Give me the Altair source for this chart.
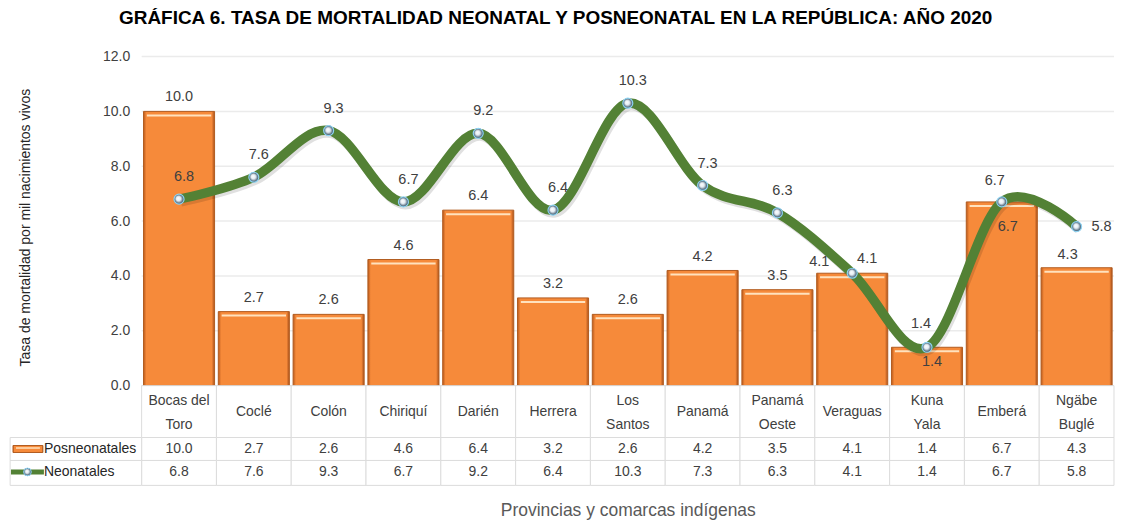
import altair as alt
import pandas as pd

# ---------------- data ----------------
categories = ["Bocas del Toro", "Coclé", "Colón", "Chiriquí", "Darién", "Herrera",
              "Los Santos", "Panamá", "Panamá Oeste", "Veraguas", "Kuna Yala",
              "Emberá", "Ngäbe Buglé"]
category_labels = ["Bocas del\nToro", "Coclé", "Colón", "Chiriquí", "Darién", "Herrera",
                   "Los\nSantos", "Panamá", "Panamá\nOeste", "Veraguas", "Kuna\nYala",
                   "Emberá", "Ngäbe\nBuglé"]
posneonatales = [10.0, 2.7, 2.6, 4.6, 6.4, 3.2, 2.6, 4.2, 3.5, 4.1, 1.4, 6.7, 4.3]
neonatales = [6.8, 7.6, 9.3, 6.7, 9.2, 6.4, 10.3, 7.3, 6.3, 4.1, 1.4, 6.7, 5.8]
y_ticks = [0, 2, 4, 6, 8, 10, 12]
series_names = ["Posneonatales", "Neonatales"]

TITLE = "GRÁFICA 6. TASA DE MORTALIDAD NEONATAL Y POSNEONATAL EN LA REPÚBLICA: AÑO 2020"
Y_TITLE = "Tasa de mortalidad por mil nacimientos vivos"
X_TITLE = "Provincias y comarcas indígenas"

# ---------------- layout ----------------
FONT = "Liberation Sans"
TXT = "#404040"
ORANGE = "#F68A3A"
GREEN = "#538135"
GRID = "#EBEBEB"
N = len(categories)
PLOT_W = 975
LEG_W = 132
CW = PLOT_W / N
X0 = -LEG_W / CW
TOTAL_W = PLOT_W + LEG_W
TOP_H = 330
TAB_H = 100
ROW_CAT = (0, 52)
ROW_POS = (52, 75)
ROW_NEO = (75, 100)

df = pd.DataFrame({
    "idx": list(range(N)),
    "cat": categories,
    "label": category_labels,
    "pos": posneonatales,
    "neo": neonatales,
})
df["x0"] = df["idx"] + 0.025
df["x1"] = df["idx"] + 0.975
df["xh0"] = df["idx"] + 0.07
df["xh1"] = df["idx"] + 0.93
df["xc"] = df["idx"] + 0.5
parts = df["label"].str.split("\n")
df["l1"] = parts.str[0]
df["l2"] = parts.apply(lambda p: p[1] if len(p) > 1 else "")
df["ty1"] = [15 if len(p) > 1 else 26 for p in parts]
df["ty2"] = 39

xscale = alt.Scale(domain=[X0, N], nice=False, zero=False)
yscale = alt.Scale(domain=[0, 12], nice=False, zero=True)

yaxis = alt.Axis(values=y_ticks, format=".1f", offset=-LEG_W, grid=False, domain=False,
                 ticks=False, labelFontSize=14, labelColor=TXT, labelFont=FONT,
                 labelPadding=12, title=Y_TITLE, titleFontSize=14,
                 titleFontWeight="normal", titleColor="#262626", titleFont=FONT,
                 titleX=-116, titleY=171, titleBaseline="middle", titleAlign="center")


def Y(field):
    return alt.Y(field, scale=yscale, axis=yaxis)


def X(field):
    return alt.X(field, scale=xscale, axis=None)


base = alt.Chart(df)

grid = alt.Chart(pd.DataFrame({"t": y_ticks})).mark_rule(color=GRID, strokeWidth=1.5).encode(
    y=Y("t:Q"),
    x=alt.X(datum=0, scale=xscale, axis=None),
    x2=alt.X2(datum=N),
)

bar_fill = alt.LinearGradient(
    gradient="linear", x1=0, y1=0, x2=1, y2=0,
    stops=[alt.GradientStop(offset=0, color="#B9591B"),
           alt.GradientStop(offset=0.04, color=ORANGE),
           alt.GradientStop(offset=0.96, color=ORANGE),
           alt.GradientStop(offset=1, color="#A9501A")])

bars = base.mark_rect(fill=bar_fill, stroke="#B25C20", strokeWidth=1).encode(
    x=X("x0:Q"), x2="x1:Q", y=Y("pos:Q"), y2=alt.Y2(datum=0)
)
bar_hi = base.mark_rule(color="#FFE2BE", strokeWidth=2, yOffset=4).encode(
    x=X("xh0:Q"), x2="xh1:Q", y=Y("pos:Q")
)

line_shadow = base.mark_line(color="#000000", opacity=0.12, strokeWidth=9,
                             interpolate="cardinal", yOffset=3, xOffset=2).encode(
    x=X("xc:Q"), y=Y("neo:Q"))
line = base.mark_line(color=GREEN, strokeWidth=9.5, interpolate="cardinal").encode(
    x=X("xc:Q"), y=Y("neo:Q"))

bead = alt.RadialGradient(
    gradient="radial", x1=0.4, y1=0.4, r1=0, x2=0.5, y2=0.5, r2=0.5,
    stops=[alt.GradientStop(offset=0, color="#FFFFFF"),
           alt.GradientStop(offset=0.45, color="#E4ECF2"),
           alt.GradientStop(offset=1, color="#1E3A52")])
points = base.mark_circle(size=100, fill=bead, stroke="#8FD3F2", strokeWidth=1.2,
                          opacity=1).encode(x=X("xc:Q"), y=Y("neo:Q"))


def labels(field, cats, dx, dy, exclude=False):
    flt = alt.FieldOneOfPredicate(field="cat", oneOf=cats)
    pred = {"not": flt.to_dict()} if exclude else flt
    return base.transform_filter(pred).mark_text(
        font=FONT, fontSize=14.5, color=TXT, dx=dx, dy=dy, baseline="middle"
    ).encode(x=X("xc:Q"), y=Y(f"{field}:Q"), text=alt.Text(f"{field}:Q", format=".1f"))


bar_special = ["Veraguas", "Kuna Yala", "Emberá", "Ngäbe Buglé"]
bar_labels = [
    labels("pos", bar_special, 0, -14, exclude=True),
    labels("pos", ["Veraguas"], -33, -11),
    labels("pos", ["Kuna Yala"], 5, 15),
    labels("pos", ["Emberá"], 6, 25),
    labels("pos", ["Ngäbe Buglé"], -9, -13),
]
neo_special = ["Veraguas", "Kuna Yala", "Emberá", "Ngäbe Buglé"]
neo_labels = [
    labels("neo", neo_special, 5, -22, exclude=True),
    labels("neo", ["Veraguas"], 15, -14),
    labels("neo", ["Kuna Yala"], -6, -23),
    labels("neo", ["Emberá"], -7, -21),
    labels("neo", ["Ngäbe Buglé"], 25, 0),
]

top = alt.layer(grid, bars, bar_hi, line_shadow, line, points, *bar_labels, *neo_labels).properties(
    width=TOTAL_W, height=TOP_H)

# ---------------- data table ----------------
tscale = alt.Scale(domain=[0, TAB_H], nice=False, zero=False, reverse=True)
xaxis_b = alt.Axis(labels=False, ticks=False, domain=False, grid=False, title=X_TITLE,
                   titleFont=FONT, titleFontSize=17.5, titleFontWeight="normal",
                   titleColor="#595959", titlePadding=16, titleX=LEG_W + PLOT_W / 2,
                   titleAlign="center")


def TX(field):
    return alt.X(field, scale=xscale, axis=xaxis_b)


def TY(field=None, datum=None):
    if datum is not None:
        return alt.Y(datum=datum, scale=tscale, axis=None)
    return alt.Y(field, scale=tscale, axis=None)


cell_rows = []
for i in range(N):
    for r in (ROW_CAT, ROW_POS, ROW_NEO):
        cell_rows.append({"c0": float(i), "c1": i + 1.0, "r0": r[0], "r1": r[1]})
for r in (ROW_POS, ROW_NEO):
    cell_rows.append({"c0": X0 + 0.002, "c1": 0.0, "r0": r[0], "r1": r[1]})
cells_df = pd.DataFrame(cell_rows)

cells = alt.Chart(cells_df).mark_rect(fill="white", stroke="#DCDCDC", strokeWidth=1).encode(
    x=TX("c0:Q"), x2="c1:Q", y=TY("r0:Q"), y2="r1:Q")

tbase = alt.Chart(df)
TFS = 14
cat_text1 = tbase.mark_text(font=FONT, fontSize=TFS, color=TXT, baseline="middle").encode(
    x=TX("xc:Q"), y=TY("ty1:Q"), text="l1:N")
cat_text2 = tbase.transform_filter("datum.l2 != ''").mark_text(
    font=FONT, fontSize=TFS, color=TXT, baseline="middle").encode(
    x=TX("xc:Q"), y=TY("ty2:Q"), text="l2:N")
pos_text = tbase.mark_text(font=FONT, fontSize=TFS, color=TXT, baseline="middle").encode(
    x=TX("xc:Q"), y=TY(datum=sum(ROW_POS) / 2), text=alt.Text("pos:Q", format=".1f"))
neo_text = tbase.mark_text(font=FONT, fontSize=TFS, color=TXT, baseline="middle").encode(
    x=TX("xc:Q"), y=TY(datum=sum(ROW_NEO) / 2 - 1), text=alt.Text("neo:Q", format=".1f"))

leg_df = pd.DataFrame({"name": series_names,
                       "ym": [sum(ROW_POS) / 2, sum(ROW_NEO) / 2 - 1]})
leg_df["tx"] = X0 + 34 / CW
leg_text = alt.Chart(leg_df).mark_text(font=FONT, fontSize=TFS, color="#262626",
                                       align="left", baseline="middle").encode(
    x=TX("tx:Q"), y=TY("ym:Q"), text="name:N")

sym_pos = alt.Chart(leg_df.iloc[[0]]).mark_rect(fill=bar_fill, stroke="#B25C20", strokeWidth=1).transform_calculate(
    a=f"{X0 + 3 / CW}", b=f"{X0 + 33 / CW}", y0="datum.ym - 3.5", y1="datum.ym + 3.5"
).encode(x=TX("a:Q"), x2="b:Q", y=TY("y0:Q"), y2="y1:Q")
sym_pos_hi = alt.Chart(leg_df.iloc[[0]]).mark_rule(color="#FFE2BE", strokeWidth=1.5).transform_calculate(
    a=f"{X0 + 6 / CW}", b=f"{X0 + 30 / CW}", y0="datum.ym - 1"
).encode(x=TX("a:Q"), x2="b:Q", y=TY("y0:Q"))
sym_neo = alt.Chart(leg_df.iloc[[1]]).mark_rule(color=GREEN, strokeWidth=5).transform_calculate(
    a=f"{X0 + 1 / CW}", b=f"{X0 + 34 / CW}"
).encode(x=TX("a:Q"), x2="b:Q", y=TY("ym:Q"))
sym_neo_pt = alt.Chart(leg_df.iloc[[1]]).mark_circle(size=60, fill=bead, stroke="#8FD3F2",
                                                     strokeWidth=1, opacity=1).transform_calculate(
    a=f"{X0 + 17.5 / CW}"
).encode(x=TX("a:Q"), y=TY("ym:Q"))

table = alt.layer(cells, cat_text1, cat_text2, pos_text, neo_text, leg_text, sym_pos,
                  sym_pos_hi, sym_neo, sym_neo_pt).properties(width=TOTAL_W, height=TAB_H)

chart = alt.vconcat(top, table, spacing=0, bounds="flush").properties(
    title=alt.TitleParams(TITLE, font=FONT, fontSize=19, fontWeight="bold", color="#000000",
                          anchor="middle", offset=22, dx=-6),
    background="white",
    padding=0,
).configure_view(stroke=None)

chart.save("out.html", embed_options={"renderer": "svg", "actions": False})
